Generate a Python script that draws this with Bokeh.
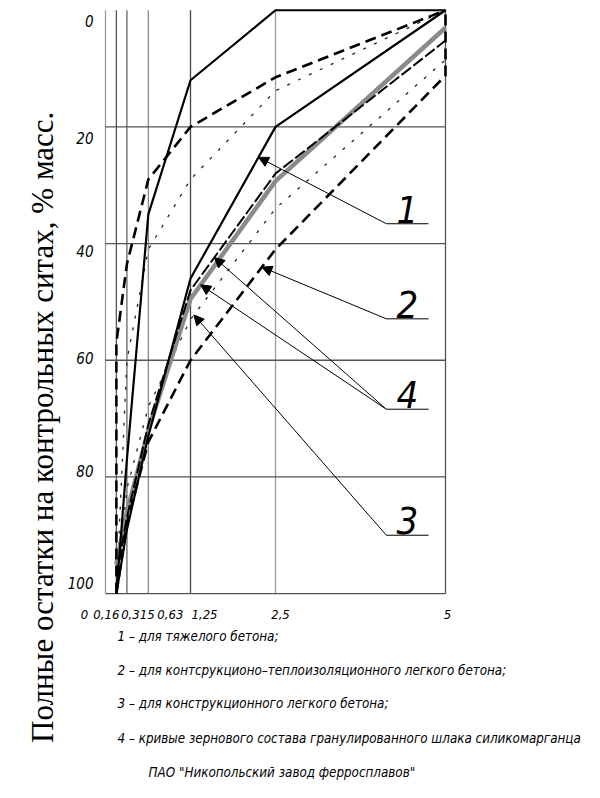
import numpy as np
from bokeh.plotting import figure
from bokeh.models import Range1d, Label, Arrow, NormalHead
from bokeh.embed import file_html
from bokeh.resources import INLINE

# ---------------- data ----------------
sieves = [0.16, 0.315, 0.63, 1.25, 2.5, 5]
x_ticks = [0, 0.16, 0.315, 0.63, 1.25, 2.5, 5]
x_tick_labels = ["0", "0,16", "0,315", "0,63", "1,25", "2,5", "5"]
y_ticks = [0, 20, 40, 60, 80, 100]
y_tick_labels = ["0", "20", "40", "60", "80", "100"]

# 1 - heavy concrete (solid)
heavy_upper = [100, 77, 35, 12, 0, 0]
heavy_lower = [100, 89, 73, 46, 20, 0]
# 2 - structural-insulating light concrete (dashed)
insul_upper = [57, 43.5, 29, 20, 11.5, 0]
insul_lower = [100, 88, 74, 60, 41, 11.2]
# 3 - structural light concrete (dotted)
struct_upper = [100, 60, 41, 29, 13.8, 0]
struct_lower = [100, 82, 68, 53, 34, 8.5]
# 4 - granulated silicomanganese slag
slag_gray = [95, 86, 72, 49.5, 29.3, 3]
slag_black = [97, 87, 71, 48, 28, 5.2]

legend_texts = [
    "1 – для тяжелого бетона;",
    "2 – для контсрукционо–теплоизоляционного легкого бетона;",
    "3 – для конструкционного легкого бетона;",
    "4 – кривые зернового состава гранулированного шлака силикомарганца",
    "ПАО \"Никопольский завод ферросплавов\"",
]
y_title = "Полные остатки на контрольных ситах, % масс."

# ---------------- styles / layout ----------------
FONT = "DejaVu Sans Condensed"
SERIF = "'Liberation Serif', 'Times New Roman', serif"
W, H = 598, 796
PX_X, PX_Y = 68.0, 5.833          # pixels per data unit
X0_PX, Y0_PX = 105.0, 9.75        # where x=0 / r=0 sit on the canvas
v_grid_colors = ["#9a9a9a", "#555555", "#666666", "#8a8a8a", "#444444", "#9a9a9a", "#555555"]
x_label_dx = [-21, -10, 11, 22, 14, 5, 2]
y_label_dy = [-10.5, -11, -7, 2.5, 6, 11]

p = figure(width=W, height=H,
           x_range=Range1d(-X0_PX / PX_X, (W - X0_PX) / PX_X),
           y_range=Range1d((H - Y0_PX) / PX_Y, -Y0_PX / PX_Y),
           output_backend="svg", toolbar_location=None,
           x_axis_location=None, y_axis_location=None,
           min_border_left=0, min_border_right=0,
           min_border_top=0, min_border_bottom=0)
p.outline_line_color = None
p.grid.visible = False
p.background_fill_color = "white"
p.border_fill_color = "white"

# grid
p.segment(x0=x_ticks, y0=[0] * len(x_ticks), x1=x_ticks, y1=[100] * len(x_ticks),
          line_color=v_grid_colors, line_width=1.3)
h_lines = y_ticks[1:]
p.segment(x0=[0] * len(h_lines), y0=h_lines, x1=[5] * len(h_lines), y1=h_lines,
          line_color="#555555", line_width=1.3)

# series 3 dotted
p.line(sieves, struct_upper, line_color="#222222", line_width=1.3, line_dash="3 9")
p.line(sieves, struct_lower, line_color="#222222", line_width=1.3, line_dash="3 9")
# series 4 gray
p.line(sieves, slag_gray, line_color="#8a8a8a", line_width=4.5)
# series 4 black
p.line(sieves, slag_black, line_color="black", line_width=2, line_dash="12 3")
# series 1 solid
p.line(sieves, heavy_upper, line_color="black", line_width=2.2)
p.line(sieves, heavy_lower, line_color="black", line_width=2.2)
# series 2 dashed (closing vertical pieces at the ends)
p.line([sieves[0]] + sieves, [100] + insul_upper, line_color="black", line_width=2.6, line_dash="11 6")
p.line(sieves + [sieves[-1]], insul_lower + [0], line_color="black", line_width=2.6, line_dash="11 6")


def on_curve(values, xv):
    return float(np.interp(xv, sieves, values))


# leader annotations: (label, underline level, [(curve, x at curve)])
callouts = [
    ("1", 36.6, [(heavy_lower, 2.25)]),
    ("2", 52.9, [(insul_lower, 2.3)]),
    ("4", 68.4, [(slag_black, 1.6), (slag_gray, 1.4)]),
    ("3", 90.0, [(struct_lower, 1.3)]),
]
ul_x0, ul_x1 = 4.13, 4.75
for txt, lvl, targets in callouts:
    p.segment(x0=[ul_x0], y0=[lvl], x1=[ul_x1], y1=[lvl], line_color="black", line_width=1)
    for curve, xv in targets:
        p.add_layout(Arrow(end=NormalHead(size=10, fill_color="black", line_color="black", line_width=1),
                           x_start=ul_x0, y_start=lvl, x_end=xv, y_end=on_curve(curve, xv),
                           line_color="black", line_width=1))
    p.add_layout(Label(x=(ul_x0 + ul_x1) / 2, y=lvl, text=txt, text_font=FONT,
                       text_font_style="italic", text_font_size="38px", text_color="black",
                       text_align="center", text_baseline="bottom", y_offset=1))

# x tick labels
for xv, t, dx in zip(x_ticks, x_tick_labels, x_label_dx):
    p.add_layout(Label(x=xv, y=100, text=t, x_offset=dx, y_offset=-21, text_font=FONT,
                       text_font_style="italic", text_font_size="13px", text_color="black",
                       text_align="center", text_baseline="middle"))
# y tick labels
for yv, t, dy in zip(y_ticks, y_tick_labels, y_label_dy):
    p.add_layout(Label(x=0, y=yv, text=t, x_offset=-12, y_offset=dy, text_font=FONT,
                       text_font_style="italic", text_font_size="15px", text_color="black",
                       text_align="right", text_baseline="middle"))

# y title
p.add_layout(Label(x=42, x_units="screen", y=71.5, text=y_title, angle=np.pi / 2,
                   text_font=SERIF, text_font_size="31px", text_color="black",
                   text_align="center", text_baseline="middle"))

# legend
legend_rows = [107.4, 113.2, 118.8, 124.8, 130.7]
legend_x = [117, 117, 117, 117, 148]
for t, r, lx in zip(legend_texts, legend_rows, legend_x):
    p.add_layout(Label(x=lx, x_units="screen", y=r, text=t, text_font=FONT,
                       text_font_style="italic", text_font_size="13.3px", text_color="black",
                       text_align="left", text_baseline="middle"))

open("out.html", "w").write(file_html(p, INLINE))
